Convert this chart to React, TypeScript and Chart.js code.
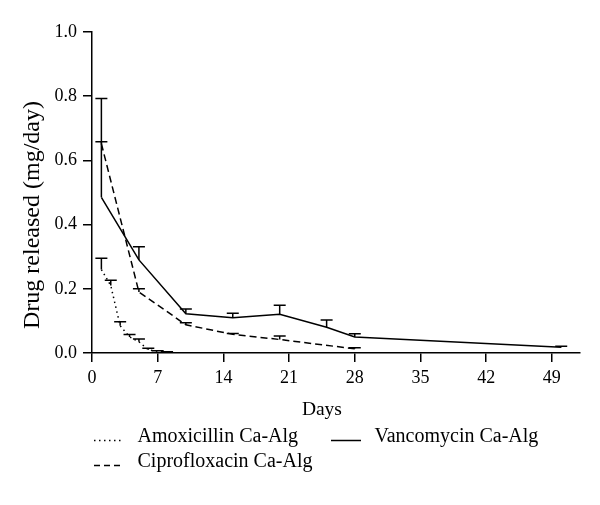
import React, { useEffect, useRef } from "react";
import { Chart, registerables } from "chart.js";

Chart.register(...registerables);

// ---- Data ----
const amoxDays = [1, 2, 3, 4, 5, 6, 7, 8];
const amoxValues = [0.26, 0.21, 0.085, 0.05, 0.035, 0.01, 0.005, 0.002];
const amoxUpper = [0.295, 0.227, 0.097, 0.058, 0.044, 0.015, 0.007, 0.004];

const vancDays = [1, 5, 10, 15, 20, 25, 28, 50];
const vancValues = [0.485, 0.29, 0.122, 0.11, 0.121, 0.08, 0.05, 0.018];
const vancUpper = [0.793, 0.331, 0.137, 0.124, 0.149, 0.103, 0.06, 0.021];

const ciproDays = [1, 5, 10, 15, 20, 28];
const ciproValues = [0.652, 0.19, 0.088, 0.058, 0.042, 0.013];
const ciproUpper = [0.658, 0.2, 0.094, 0.061, 0.053, 0.016];

const xTickValues = [0, 7, 14, 21, 28, 35, 42, 49];
const yTickValues = [0, 0.2, 0.4, 0.6, 0.8, 1.0];
const seriesLabels = ["Amoxicillin Ca-Alg", "Vancomycin Ca-Alg", "Ciprofloxacin Ca-Alg"];
const xTitle = "Days";
const yTitle = "Drug released (mg/day)";

const FONT = "'Liberation Serif', serif";

const toPoints = (days: number[], vals: number[]) => days.map((d, i) => ({ x: d, y: vals[i] }));

const errorBarPlugin = {
  id: "errorBars",
  afterDatasetsDraw(chart: any) {
    const ctx = chart.ctx;
    const xs = chart.scales.x;
    const ys = chart.scales.y;
    ctx.save();
    ctx.strokeStyle = "#000";
    ctx.lineWidth = 1.5;
    ctx.setLineDash([]);
    chart.data.datasets.forEach((ds: any) => {
      const up = ds.upper as number[];
      ds.data.forEach((p: any, j: number) => {
        const px = xs.getPixelForValue(p.x);
        const py = ys.getPixelForValue(p.y);
        const pt = ys.getPixelForValue(up[j]);
        ctx.beginPath();
        ctx.moveTo(px, py);
        ctx.lineTo(px, pt);
        ctx.moveTo(px - 6, pt);
        ctx.lineTo(px + 6, pt);
        ctx.stroke();
      });
    });
    ctx.restore();
  },
};

const titlesLegendPlugin = {
  id: "titlesLegend",
  afterDraw(chart: any) {
    const ctx = chart.ctx;
    const area = chart.chartArea;
    const xs = chart.scales.x;
    ctx.save();
    ctx.fillStyle = "#000";
    // x title, centred on the labelled tick range
    ctx.font = `19.5px ${FONT}`;
    ctx.textAlign = "center";
    ctx.textBaseline = "alphabetic";
    const cx =
      (xs.getPixelForValue(xTickValues[0]) +
        xs.getPixelForValue(xTickValues[xTickValues.length - 1])) /
      2;
    ctx.fillText(xTitle, cx, area.bottom + 62);
    // y title
    ctx.save();
    ctx.translate(area.left - 59, area.top + 183);
    ctx.rotate(-Math.PI / 2);
    ctx.font = `24px ${FONT}`;
    ctx.textAlign = "center";
    ctx.textBaseline = "middle";
    ctx.fillText(yTitle, 0, 0);
    ctx.restore();
    // legend
    const slots = [
      { x: area.left + 2, y: area.bottom + 88.5 },
      { x: area.left + 239, y: area.bottom + 88.5 },
      { x: area.left + 2, y: area.bottom + 113.5 },
    ];
    chart.data.datasets.forEach((ds: any, i: number) => {
      const s = slots[i];
      ctx.beginPath();
      ctx.setLineDash(ds.legendDash || []);
      ctx.lineWidth = 1.5;
      ctx.strokeStyle = "#000";
      ctx.moveTo(s.x, s.y - 1);
      ctx.lineTo(s.x + 30, s.y - 1);
      ctx.stroke();
      ctx.setLineDash([]);
      ctx.font = `20px ${FONT}`;
      ctx.textAlign = "left";
      ctx.textBaseline = "alphabetic";
      ctx.fillText(ds.label, s.x + 43.5, s.y);
    });
    ctx.restore();
  },
};

export default function App() {
  const canvasRef = useRef<HTMLCanvasElement | null>(null);

  useEffect(() => {
    if (!canvasRef.current) return;
    const chart = new Chart(canvasRef.current, {
      type: "line",
      data: {
        datasets: [
          {
            label: seriesLabels[0],
            data: toPoints(amoxDays, amoxValues),
            upper: amoxUpper,
            borderColor: "#000",
            borderWidth: 1.5,
            borderDash: [1.5, 3.5],
            legendDash: [1.5, 3.5],
            pointRadius: 0,
            tension: 0,
            fill: false,
          } as any,
          {
            label: seriesLabels[1],
            data: toPoints(vancDays, vancValues),
            upper: vancUpper,
            borderColor: "#000",
            borderWidth: 1.5,
            pointRadius: 0,
            tension: 0,
            fill: false,
          } as any,
          {
            label: seriesLabels[2],
            data: toPoints(ciproDays, ciproValues),
            upper: ciproUpper,
            borderColor: "#000",
            borderWidth: 1.5,
            borderDash: [7, 4],
            legendDash: [6, 4],
            pointRadius: 0,
            tension: 0,
            fill: false,
          } as any,
        ],
      },
      options: {
        responsive: false,
        animation: false,
        layout: { padding: { top: 32, right: 20, bottom: 0, left: 0 } },
        plugins: {
          legend: { display: false },
          tooltip: { enabled: false },
        },
        scales: {
          x: {
            type: "linear",
            min: 0,
            max: 52,
            afterBuildTicks: (s: any) => {
              s.ticks = xTickValues.map((v) => ({ value: v }));
            },
            afterFit: (s: any) => {
              s.height = 152;
            },
            grid: {
              drawOnChartArea: false,
              drawTicks: true,
              tickLength: 9,
              color: "#000",
              lineWidth: 1.5,
            },
            border: { display: true, color: "#000", width: 1.5 },
            ticks: {
              color: "#000",
              font: { family: FONT, size: 18 },
              padding: 5,
              maxRotation: 0,
              autoSkip: false,
            },
          },
          y: {
            type: "linear",
            min: 0,
            max: 1,
            afterBuildTicks: (s: any) => {
              s.ticks = yTickValues.map((v) => ({ value: v }));
            },
            afterFit: (s: any) => {
              s.width = 92;
            },
            grid: {
              drawOnChartArea: false,
              drawTicks: true,
              tickLength: 9,
              color: "#000",
              lineWidth: 1.5,
            },
            border: { display: true, color: "#000", width: 1.5 },
            ticks: {
              color: "#000",
              font: { family: FONT, size: 18 },
              padding: 6,
              autoSkip: false,
              callback: (v: any) => Number(v).toFixed(1),
            },
          },
        },
      } as any,
      plugins: [errorBarPlugin, titlesLegendPlugin],
    });
    return () => chart.destroy();
  }, []);

  return (
    <div style={{ position: "absolute", left: 0, top: 0, width: 600, height: 505, background: "#fff" }}>
      <canvas ref={canvasRef} width={600} height={505} style={{ width: 600, height: 505 }} />
    </div>
  );
}
